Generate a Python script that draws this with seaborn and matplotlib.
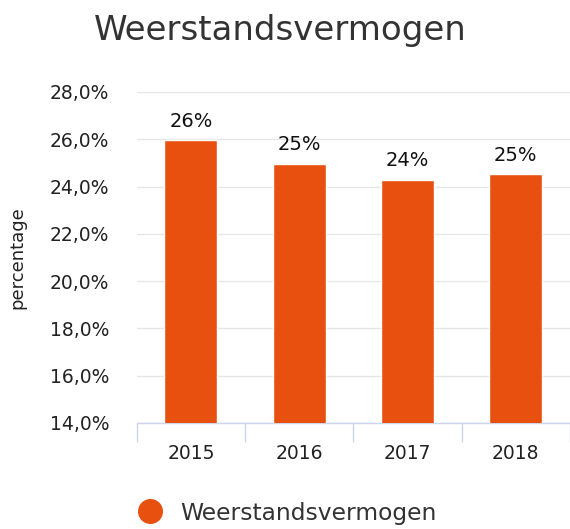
import numpy as np
import pandas as pd
import matplotlib
matplotlib.use("Agg")
import matplotlib.pyplot as plt
import seaborn as sns
from matplotlib.lines import Line2D
from matplotlib.ticker import FixedLocator

# data
years = ["2015", "2016", "2017", "2018"]
values = [25.95, 24.95, 24.27, 24.52]
bar_labels = ["26%", "25%", "24%", "25%"]
yticks = [14, 16, 18, 20, 22, 24, 26, 28]
series_name = "Weerstandsvermogen"

sns.set_theme(style="white")
plt.rcParams["font.family"] = ["DejaVu Sans"]

orange = "#E8500F"
df = pd.DataFrame({"jaar": years, "waarde": values})

fig = plt.figure(figsize=(5.70, 5.29), dpi=100)
ax = fig.add_axes([0.240, 0.2004, 0.760, 0.6257])

sns.barplot(data=df, x="jaar", y="waarde", color=orange, width=0.49,
            saturation=1, ax=ax, zorder=3)

ax.set_ylim(14, 28)
ax.set_xlim(-0.5, 3.5)
ax.set_yticks(yticks)
ax.set_yticklabels([f"{v:.1f}".replace(".", ",") + "%" for v in yticks])
ax.yaxis.grid(True, color="#e6e6e6", linewidth=1, zorder=0)
ax.set_axisbelow(True)

for s in ["top", "right", "left"]:
    ax.spines[s].set_visible(False)
ax.spines["bottom"].set_color("#ccd6eb")
ax.spines["bottom"].set_linewidth(1)

ax.tick_params(axis="y", length=0, labelsize=13.5, labelcolor="#222222", pad=20)
ax.tick_params(axis="x", which="major", length=0, labelsize=13.5,
               labelcolor="#222222", pad=15)
ax.xaxis.set_minor_locator(FixedLocator([-0.5, 0.5, 1.5, 2.5, 3.5]))
ax.tick_params(axis="x", which="minor", bottom=True, length=14,
               color="#ccd6eb", width=1)

ax.set_xlabel("")
ax.set_ylabel("percentage", fontsize=13, color="#222222")
ax.yaxis.set_label_coords(-0.255, 0.5)

for i, (v, lab) in enumerate(zip(values, bar_labels)):
    ax.annotate(lab, (i, v), xytext=(0, 7), textcoords="offset points",
                ha="center", va="bottom", fontsize=14, color="#111111")

fig.text(0.492, 0.943, series_name, ha="center", va="center",
         fontsize=24.5, color="#333333")

handle = Line2D([], [], marker="o", linestyle="", markersize=17,
                markerfacecolor=orange, markeredgecolor=orange)
fig.legend([handle], [series_name], loc="center", bbox_to_anchor=(0.494, 0.03),
           frameon=False, fontsize=16.8, handletextpad=0.3,
           labelcolor="#333333")

fig.savefig("out.png", dpi=100)
